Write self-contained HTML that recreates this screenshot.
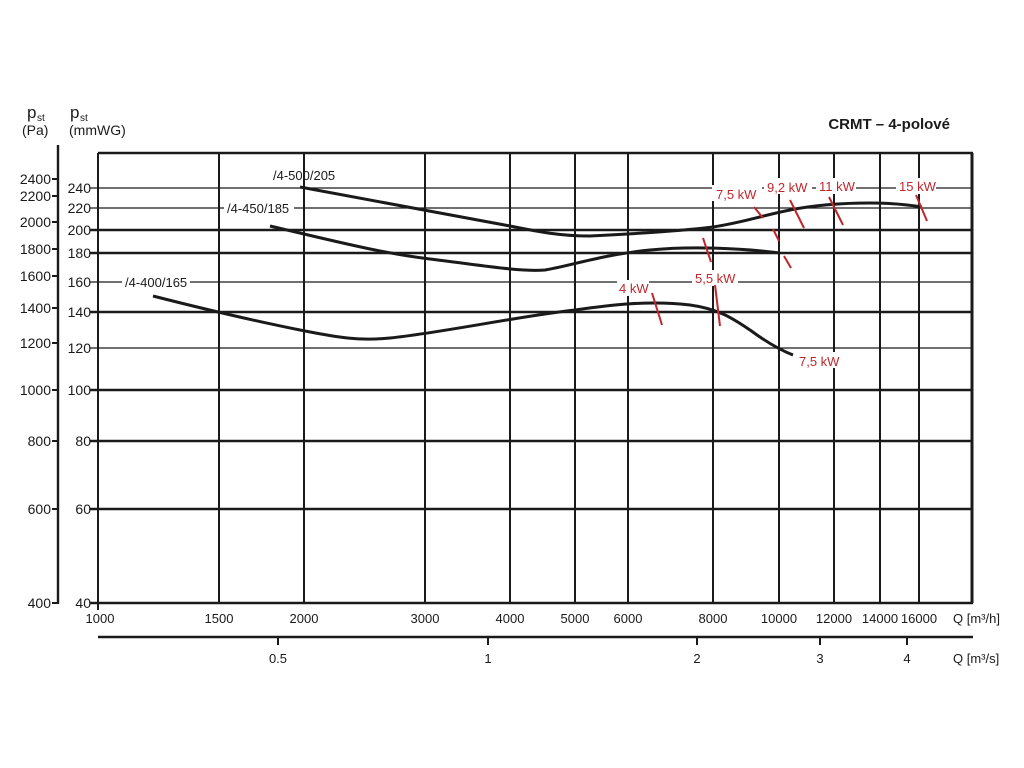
<!DOCTYPE html>
<html><head><meta charset="utf-8"><style>body{margin:0;background:#fff}svg{display:block}text{font-family:"Liberation Sans",sans-serif}</style></head><body>
<svg width="1024" height="768" viewBox="0 0 1024 768">
<g stroke="#1a1a1a" fill="none">
<!-- vertical grid -->
<g stroke-width="2">
<line x1="219" y1="153" x2="219" y2="603"/><line x1="304" y1="153" x2="304" y2="603"/><line x1="425" y1="153" x2="425" y2="603"/><line x1="510" y1="153" x2="510" y2="603"/><line x1="575" y1="153" x2="575" y2="603"/><line x1="628" y1="153" x2="628" y2="603"/><line x1="713" y1="153" x2="713" y2="603"/><line x1="779" y1="153" x2="779" y2="603"/><line x1="834" y1="153" x2="834" y2="603"/><line x1="880" y1="153" x2="880" y2="603"/><line x1="919" y1="153" x2="919" y2="603"/>
</g>
<!-- horizontal grid -->
<g stroke-width="1.3"><line x1="90" y1="188" x2="973" y2="188"/><line x1="90" y1="208" x2="973" y2="208"/><line x1="90" y1="282" x2="973" y2="282"/><line x1="90" y1="348" x2="973" y2="348"/></g>
<g stroke-width="2.4"><line x1="90" y1="230" x2="973" y2="230"/><line x1="90" y1="253" x2="973" y2="253"/><line x1="90" y1="312" x2="973" y2="312"/><line x1="90" y1="390" x2="973" y2="390"/><line x1="90" y1="441" x2="973" y2="441"/><line x1="90" y1="509" x2="973" y2="509"/></g>
<line x1="98" y1="153" x2="973" y2="153" stroke-width="2.4"/>
<line x1="90" y1="603" x2="973" y2="603" stroke-width="2.4"/>
<line x1="98" y1="153" x2="98" y2="610" stroke-width="2"/>
<line x1="972" y1="153" x2="972" y2="603" stroke-width="3"/>
<!-- Pa axis -->
<line x1="58" y1="145" x2="58" y2="604" stroke-width="2.4"/>
<g stroke-width="2"><line x1="52" y1="179" x2="58" y2="179"/><line x1="52" y1="196" x2="58" y2="196"/><line x1="52" y1="222" x2="58" y2="222"/><line x1="52" y1="249" x2="58" y2="249"/><line x1="52" y1="276" x2="58" y2="276"/><line x1="52" y1="308" x2="58" y2="308"/><line x1="52" y1="343" x2="58" y2="343"/><line x1="52" y1="390" x2="58" y2="390"/><line x1="52" y1="441" x2="58" y2="441"/><line x1="52" y1="509" x2="58" y2="509"/><line x1="52" y1="603" x2="58" y2="603"/></g>
<!-- second x axis -->
<line x1="98" y1="637" x2="973" y2="637" stroke-width="2.4"/>
<g stroke-width="2"><line x1="278" y1="637" x2="278" y2="645"/><line x1="488" y1="637" x2="488" y2="645"/><line x1="697" y1="637" x2="697" y2="645"/><line x1="820" y1="637" x2="820" y2="645"/><line x1="907" y1="637" x2="907" y2="645"/></g>
</g>
<!-- labels with white bg -->
<g fill="#fff"><rect x="122" y="274" width="68" height="15"/><rect x="224" y="200" width="70" height="15"/><rect x="712" y="185" width="50" height="16"/><rect x="764" y="178" width="48" height="16"/><rect x="816" y="178" width="40" height="16"/><rect x="896" y="178" width="40" height="16"/><rect x="617" y="280" width="32" height="16"/><rect x="692" y="270" width="46" height="16"/><rect x="797" y="352" width="44" height="16"/></g>
<!-- curves -->
<g stroke="#1a1a1a" stroke-width="3" fill="none">
<path d="M153,296 C200,308 260,322 300,330 C340,338 360,341 390,338 C440,333 520,316 575,310 C610,305 650,300 690,305 C720,309 735,320 750,330 C765,341 780,350 793,355"/>
<path d="M270,226 C330,240 380,253 430,259 C480,265 520,272 545,270 C570,266 600,255 650,250 C690,246 740,248 780,253"/>
<path d="M300,187 C380,202 450,215 510,226 C540,232 560,236 590,236 C630,234 680,231 713,227 C745,222 760,216 790,210 C815,205 840,203 870,203 C895,203 910,205 922,207"/>
</g>
<g stroke="#c0272d" stroke-width="2" fill="none">
<line x1="652" y1="293" x2="662" y2="325"/><line x1="715" y1="285" x2="720" y2="326"/><line x1="703" y1="238" x2="711" y2="262"/><line x1="754" y1="207" x2="763" y2="218"/><line x1="773" y1="229" x2="779" y2="241"/><line x1="790" y1="200" x2="804" y2="228"/><line x1="784" y1="256" x2="791" y2="268"/><line x1="829" y1="197" x2="843" y2="225"/><line x1="916" y1="195" x2="927" y2="221"/>
</g>
<g fill="#c0272d" font-size="13"><text x="716" y="199">7,5 kW</text><text x="767" y="192">9,2 kW</text><text x="819" y="191">11 kW</text><text x="899" y="191">15 kW</text><text x="619" y="293">4 kW</text><text x="695" y="283">5,5 kW</text><text x="799" y="366">7,5 kW</text></g>
<g fill="#1a1a1a" font-size="13">
<text x="125" y="287">/4-400/165</text><text x="227" y="213">/4-450/185</text><text x="273" y="180">/4-500/205</text>
<text x="950" y="129" text-anchor="end" font-weight="bold" font-size="15">CRMT – 4-polové</text>
<g font-size="14" text-anchor="end"><text x="51" y="184">2400</text><text x="51" y="201">2200</text><text x="51" y="227">2000</text><text x="51" y="254">1800</text><text x="51" y="281">1600</text><text x="51" y="313">1400</text><text x="51" y="348">1200</text><text x="51" y="395">1000</text><text x="51" y="446">800</text><text x="51" y="514">600</text><text x="51" y="608">400</text>
<text x="91" y="193">240</text><text x="91" y="213">220</text><text x="91" y="235">200</text><text x="91" y="258">180</text><text x="91" y="287">160</text><text x="91" y="317">140</text><text x="91" y="353">120</text><text x="91" y="395">100</text><text x="91" y="446">80</text><text x="91" y="514">60</text><text x="91" y="608">40</text></g>
<text x="27" y="118" font-size="17">p</text><text x="37" y="121" font-size="10">st</text><text x="22" y="135" font-size="14">(Pa)</text>
<text x="70" y="118" font-size="17">p</text><text x="80" y="121" font-size="10">st</text><text x="69" y="135" font-size="14">(mmWG)</text>
<g font-size="13" text-anchor="middle"><text x="100" y="623">1000</text><text x="219" y="623">1500</text><text x="304" y="623">2000</text><text x="425" y="623">3000</text><text x="510" y="623">4000</text><text x="575" y="623">5000</text><text x="628" y="623">6000</text><text x="713" y="623">8000</text><text x="779" y="623">10000</text><text x="834" y="623">12000</text><text x="880" y="623">14000</text><text x="919" y="623">16000</text>
<text x="278" y="663">0.5</text><text x="488" y="663">1</text><text x="697" y="663">2</text><text x="820" y="663">3</text><text x="907" y="663">4</text></g>
<text x="953" y="623">Q [m³/h]</text><text x="953" y="663">Q [m³/s]</text>
</g>
</svg>
</body></html>
